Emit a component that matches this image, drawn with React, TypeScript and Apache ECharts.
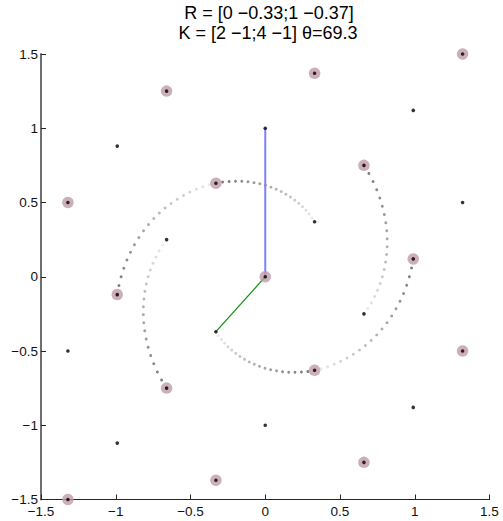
import React, { useEffect, useRef } from "react";
import * as echarts from "echarts";

const FONT = '"Liberation Sans", Arial, Helvetica, sans-serif';

// Title lines
const titleLines = ["R = [0 \u22120.33;1 \u22120.37]", "K = [2 \u22121;4 \u22121] \u03b8=69.3"];

// Axis ticks
const tickValues = [-1.5, -1, -0.5, 0, 0.5, 1, 1.5];

// Basis vectors (columns of R)
const vecA = [0, 1];
const vecB = [-0.33, -0.37];

// Sub-lattice points (R*K lattice) – large markers
const bigX = [0, -0.33, 0.33, -0.66, 0.66, -0.99, 0.99, -0.66, 0.66, 0.33, -0.33, -1.32, 1.32, 1.32, -1.32];
const bigY = [0, 0.63, -0.63, -0.75, 0.75, -0.12, 0.12, 1.25, -1.25, 1.37, -1.37, 0.5, -0.5, 1.5, -1.5];

// Remaining lattice points – small markers only
const smallX = [0, 0, 0.33, -0.33, -0.66, 0.66, 0.99, -0.99, 0.99, -0.99, 1.32, -1.32];
const smallY = [1, -1, 0.37, -0.37, 0.25, -0.25, 1.12, -1.12, -0.88, 0.88, 0.5, -0.5];

// Spiral arcs: start point -> end point, rotating by theta
const arcStartX = [0.33, -0.33, -0.33, 0.33, -0.66, 0.66];
const arcStartY = [0.37, -0.37, 0.63, -0.63, 0.25, -0.25];
const arcEndX = [-0.33, 0.33, -0.99, 0.99, -0.66, 0.66];
const arcEndY = [0.63, -0.63, -0.12, 0.12, -0.75, 0.75];
const thetaDeg = 69.3;
const arcSteps = 20;

function fmt(v: number) {
  return String(v).replace("-", "\u2212");
}

export default function App() {
  const ref = useRef<HTMLDivElement>(null);

  useEffect(() => {
    if (!ref.current) return;
    const chart = echarts.init(ref.current, null, { renderer: "svg" });

    const arcData: any[] = [];
    for (let k = 0; k < arcStartX.length; k++) {
      const x0 = arcStartX[k];
      const y0 = arcStartY[k];
      const r0 = Math.hypot(x0, y0);
      const r1 = Math.hypot(arcEndX[k], arcEndY[k]);
      const a0 = Math.atan2(y0, x0);
      const th = (thetaDeg * Math.PI) / 180;
      for (let i = 0; i <= arcSteps; i++) {
        const t = i / arcSteps;
        const r = r0 * Math.pow(r1 / r0, t);
        const a = a0 + th * t;
        const g = Math.round(255 * (0.92 - 0.6 * t));
        arcData.push({
          value: [r * Math.cos(a), r * Math.sin(a)],
          itemStyle: { color: `rgb(${g},${g},${g})` },
        });
      }
    }

    const allX = bigX.concat(smallX);
    const allY = bigY.concat(smallY);

    const axisCommon = {
      type: "value",
      min: -1.5,
      max: 1.5,
      interval: 0.5,
      splitLine: { show: false },
      axisTick: { show: true, inside: true, length: 5, lineStyle: { color: "#262626", width: 1 } },
    };

    const option: any = {
      animation: false,
      backgroundColor: "#ffffff",
      grid: { left: 41, top: 54, width: 448.5, height: 445.5, containLabel: false },
      graphic: [
        {
          type: "text",
          x: 269,
          y: 13,
          style: {
            text: titleLines[0],
            textAlign: "center",
            textVerticalAlign: "middle",
            font: `18px ${FONT}`,
            fill: "#000",
          },
        },
        {
          type: "text",
          x: 268,
          y: 33,
          style: {
            text: titleLines[1],
            textAlign: "center",
            textVerticalAlign: "middle",
            font: `18px ${FONT}`,
            fill: "#000",
          },
        },
      ],
      xAxis: {
        ...axisCommon,
        axisLine: { show: true, onZero: false, lineStyle: { color: "#262626", width: 1 } },
        axisLabel: {
          margin: 5,
          fontSize: 13.5,
          fontFamily: FONT,
          color: "#111",
          formatter: (v: number) => (tickValues.includes(v) ? fmt(v) : ""),
        },
      },
      yAxis: {
        ...axisCommon,
        axisLine: { show: true, onZero: false, lineStyle: { color: "#6f6f6f", width: 2 } },
        axisLabel: {
          margin: 3,
          fontSize: 13.5,
          fontFamily: FONT,
          color: "#111",
          formatter: (v: number) => (tickValues.includes(v) ? fmt(v) : ""),
        },
      },
      series: [
        {
          type: "line",
          data: [
            [0, 0],
            [vecA[0], vecA[1]],
          ],
          symbol: "none",
          lineStyle: { color: "#7f7fff", width: 2 },
          z: 1,
        },
        {
          type: "line",
          data: [
            [0, 0],
            [vecB[0], vecB[1]],
          ],
          symbol: "none",
          lineStyle: { color: "#109010", width: 1.2 },
          z: 1,
        },
        {
          type: "scatter",
          data: arcData,
          symbol: "circle",
          symbolSize: 2.9,
          clip: false,
          z: 2,
        },
        {
          type: "scatter",
          data: bigX.map((x, i) => [x, bigY[i]]),
          symbol: "circle",
          symbolSize: 11.5,
          itemStyle: { color: "#c09ba7" },
          clip: false,
          z: 3,
        },
        {
          type: "scatter",
          data: allX.map((x, i) => [x, allY[i]]),
          symbol: "circle",
          symbolSize: 3.6,
          itemStyle: { color: "#000000" },
          clip: false,
          z: 4,
        },
      ],
    };

    chart.setOption(option);
    return () => chart.dispose();
  }, []);

  return (
    <div
      ref={ref}
      style={{ position: "absolute", left: 0, top: 0, width: 503, height: 521 }}
    />
  );
}
